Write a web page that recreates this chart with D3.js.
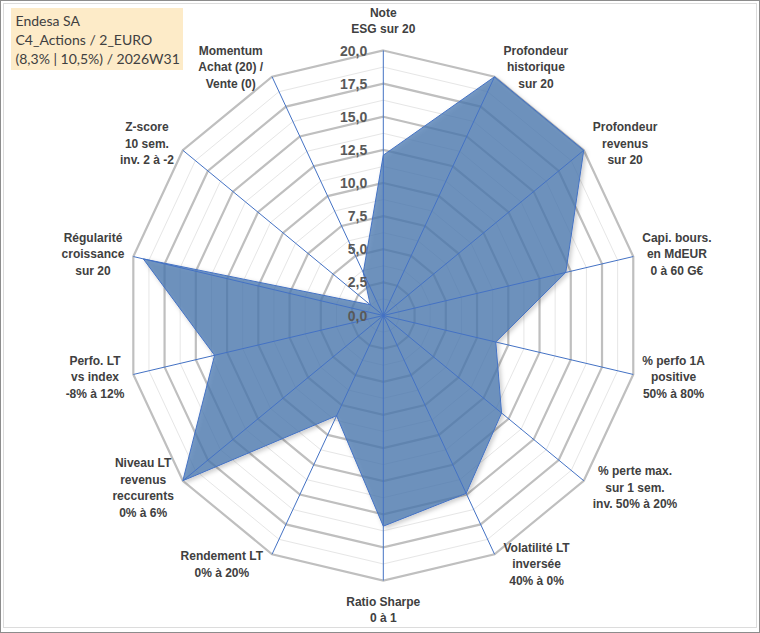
<!DOCTYPE html>
<html>
<head>
<meta charset="utf-8">
<script src="https://cdn.jsdelivr.net/npm/d3@7"></script>
<style>
  body { margin: 0; background: #fff; }
</style>
</head>
<body>
<div id="chart"></div>
<script>
// axis labels, clockwise from the top
const categories = [
  ["Note", "ESG sur 20"],
  ["Profondeur", "historique", "sur 20"],
  ["Profondeur", "revenus", "sur 20"],
  ["Capi. bours.", "en MdEUR", "0 à 60 G€"],
  ["% perfo 1A", "positive", "50% à 80%"],
  ["% perte max.", "sur 1 sem.", "inv. 50% à 20%"],
  ["Volatilité LT", "inversée", "40% à 0%"],
  ["Ratio Sharpe", "0 à 1"],
  ["Rendement LT", "0% à 20%"],
  ["Niveau LT", "revenus", "reccurents", "0% à 6%"],
  ["Perfo. LT", "vs index", "-8% à 12%"],
  ["Régularité", "croissance", "sur 20"],
  ["Z-score", "10 sem.", "inv. 2 à -2"],
  ["Momentum", "Achat (20) /", "Vente (0)"]
];
const values = [12.1, 20, 20, 14.6, 9.0, 11.8, 14.9, 15.9, 8.4, 20, 13.5, 19.2, 1.3, 3.6];
const ticks = [0, 2.5, 5, 7.5, 10, 12.5, 15, 17.5, 20];
const titleLines = ["Endesa SA", "C4_Actions / 2_EURO", "(8,3% | 10,5%) / 2026W31"];

const W = 760, H = 633;
const cx = 383.3, cy = 315.5;

const svg = d3.select("#chart").append("svg")
  .attr("width", W)
  .attr("height", H);

// frame
svg.append("rect").attr("x", 0.5).attr("y", 0.5).attr("width", W - 1).attr("height", H - 1)
  .attr("fill", "#fff").attr("stroke", "#8c8c8c");
svg.append("rect").attr("x", 3.5).attr("y", 3.5).attr("width", W - 7).attr("height", H - 9)
  .attr("fill", "none").attr("stroke", "#dcdcdc");

const defs = svg.append("defs");
defs.append("filter").attr("id", "shadow")
  .attr("x", "-10%").attr("y", "-10%").attr("width", "120%").attr("height", "120%")
  .append("feDropShadow")
    .attr("dx", 2).attr("dy", 2).attr("stdDeviation", 2)
    .attr("flood-color", "#000").attr("flood-opacity", 0.25);

// radial scales (the plot is slightly wider-than-tall squashed)
const rx = d3.scaleLinear().domain([0, 20]).range([0, 256.4]);
const ry = d3.scaleLinear().domain([0, 20]).range([0, 265]);
const angle = d3.scalePoint().domain(d3.range(categories.length)).range([0, 2 * Math.PI * (categories.length - 1) / categories.length]);

function pt(i, v) {
  const a = angle(i);
  return [cx + rx(v) * Math.sin(a), cy - ry(v) * Math.cos(a)];
}

const g = svg.append("g");
const idx = d3.range(categories.length);
const ring = v => d3.line()(idx.map(i => pt(i, v))) + "Z";

// minor rings
const minor = d3.range(1.25, 20, 2.5);
g.selectAll(".minor").data(minor).join("path")
  .attr("d", ring)
  .attr("fill", "none")
  .attr("stroke", "#e6e6e6")
  .attr("stroke-width", 1);

// major rings
g.selectAll(".major").data(ticks.filter(t => t > 0)).join("path")
  .attr("d", ring)
  .attr("fill", "none")
  .attr("stroke", "#bfbfbf")
  .attr("stroke-width", 2.2);

// data polygon
g.append("path")
  .datum(values)
  .attr("d", d => d3.line()(d.map((v, i) => pt(i, v))) + "Z")
  .attr("fill", "#4b78b0")
  .attr("fill-opacity", 0.75)
  .attr("stroke", "#4472c4")
  .attr("stroke-width", 1)
  .attr("filter", "url(#shadow)");

// spokes
g.selectAll(".spoke").data(idx).join("line")
  .attr("x1", cx).attr("y1", cy)
  .attr("x2", i => pt(i, 20)[0])
  .attr("y2", i => pt(i, 20)[1])
  .attr("stroke", "#4472c4")
  .attr("stroke-width", 1);

// tick labels
const fr = d3.formatLocale({decimal: ",", thousands: " ", grouping: [3], currency: ["", "€"]}).format(".1f");
g.selectAll(".tick").data(ticks).join("text")
  .attr("x", cx - 16)
  .attr("y", d => cy - ry(d))
  .attr("dy", "0.36em")
  .attr("text-anchor", "end")
  .style("font-family", "Liberation Sans, Arial, sans-serif")
  .style("font-weight", "bold")
  .style("font-size", "14px")
  .style("fill", "#595959")
  .text(fr);

// category labels
const lh = 16.5;
idx.forEach(i => {
  const a = angle(i);
  const s = Math.sin(a), c = Math.cos(a);
  const [vx, vy] = pt(i, 20);
  const lines = categories[i];
  const t = svg.append("text")
    .attr("text-anchor", "middle")
    .style("font-family", "Liberation Sans, Arial, sans-serif")
    .style("font-weight", "bold")
    .style("font-size", "12px")
    .style("fill", "#404040");
  const spans = t.selectAll("tspan").data(lines).join("tspan").text(d => d);
  const w = d3.max(spans.nodes(), n => n.getComputedTextLength());
  const h = lines.length * lh;
  let mx, my;
  if (Math.abs(s) < 0.01) {
    mx = vx;
    my = vy - c * (h / 2 + 13);
  } else {
    mx = vx + Math.sign(s) * (w / 2 + 9);
    my = vy - c * 11;
  }
  spans.attr("x", mx)
    .attr("y", (d, j) => my + (j - (lines.length - 1) / 2) * lh)
    .attr("dy", "0.35em");
});

// title box
svg.append("rect")
  .attr("x", 11).attr("y", 8).attr("width", 172).attr("height", 62)
  .attr("fill", "#fdebc8");
svg.selectAll(".title").data(titleLines).join("text")
  .attr("x", 15.5)
  .attr("y", (d, j) => 26 + j * 19)
  .style("font-family", "Lato, sans-serif")
  .style("font-size", "14px")
  .style("fill", "#404040")
  .text(d => d);
</script>
</body>
</html>
